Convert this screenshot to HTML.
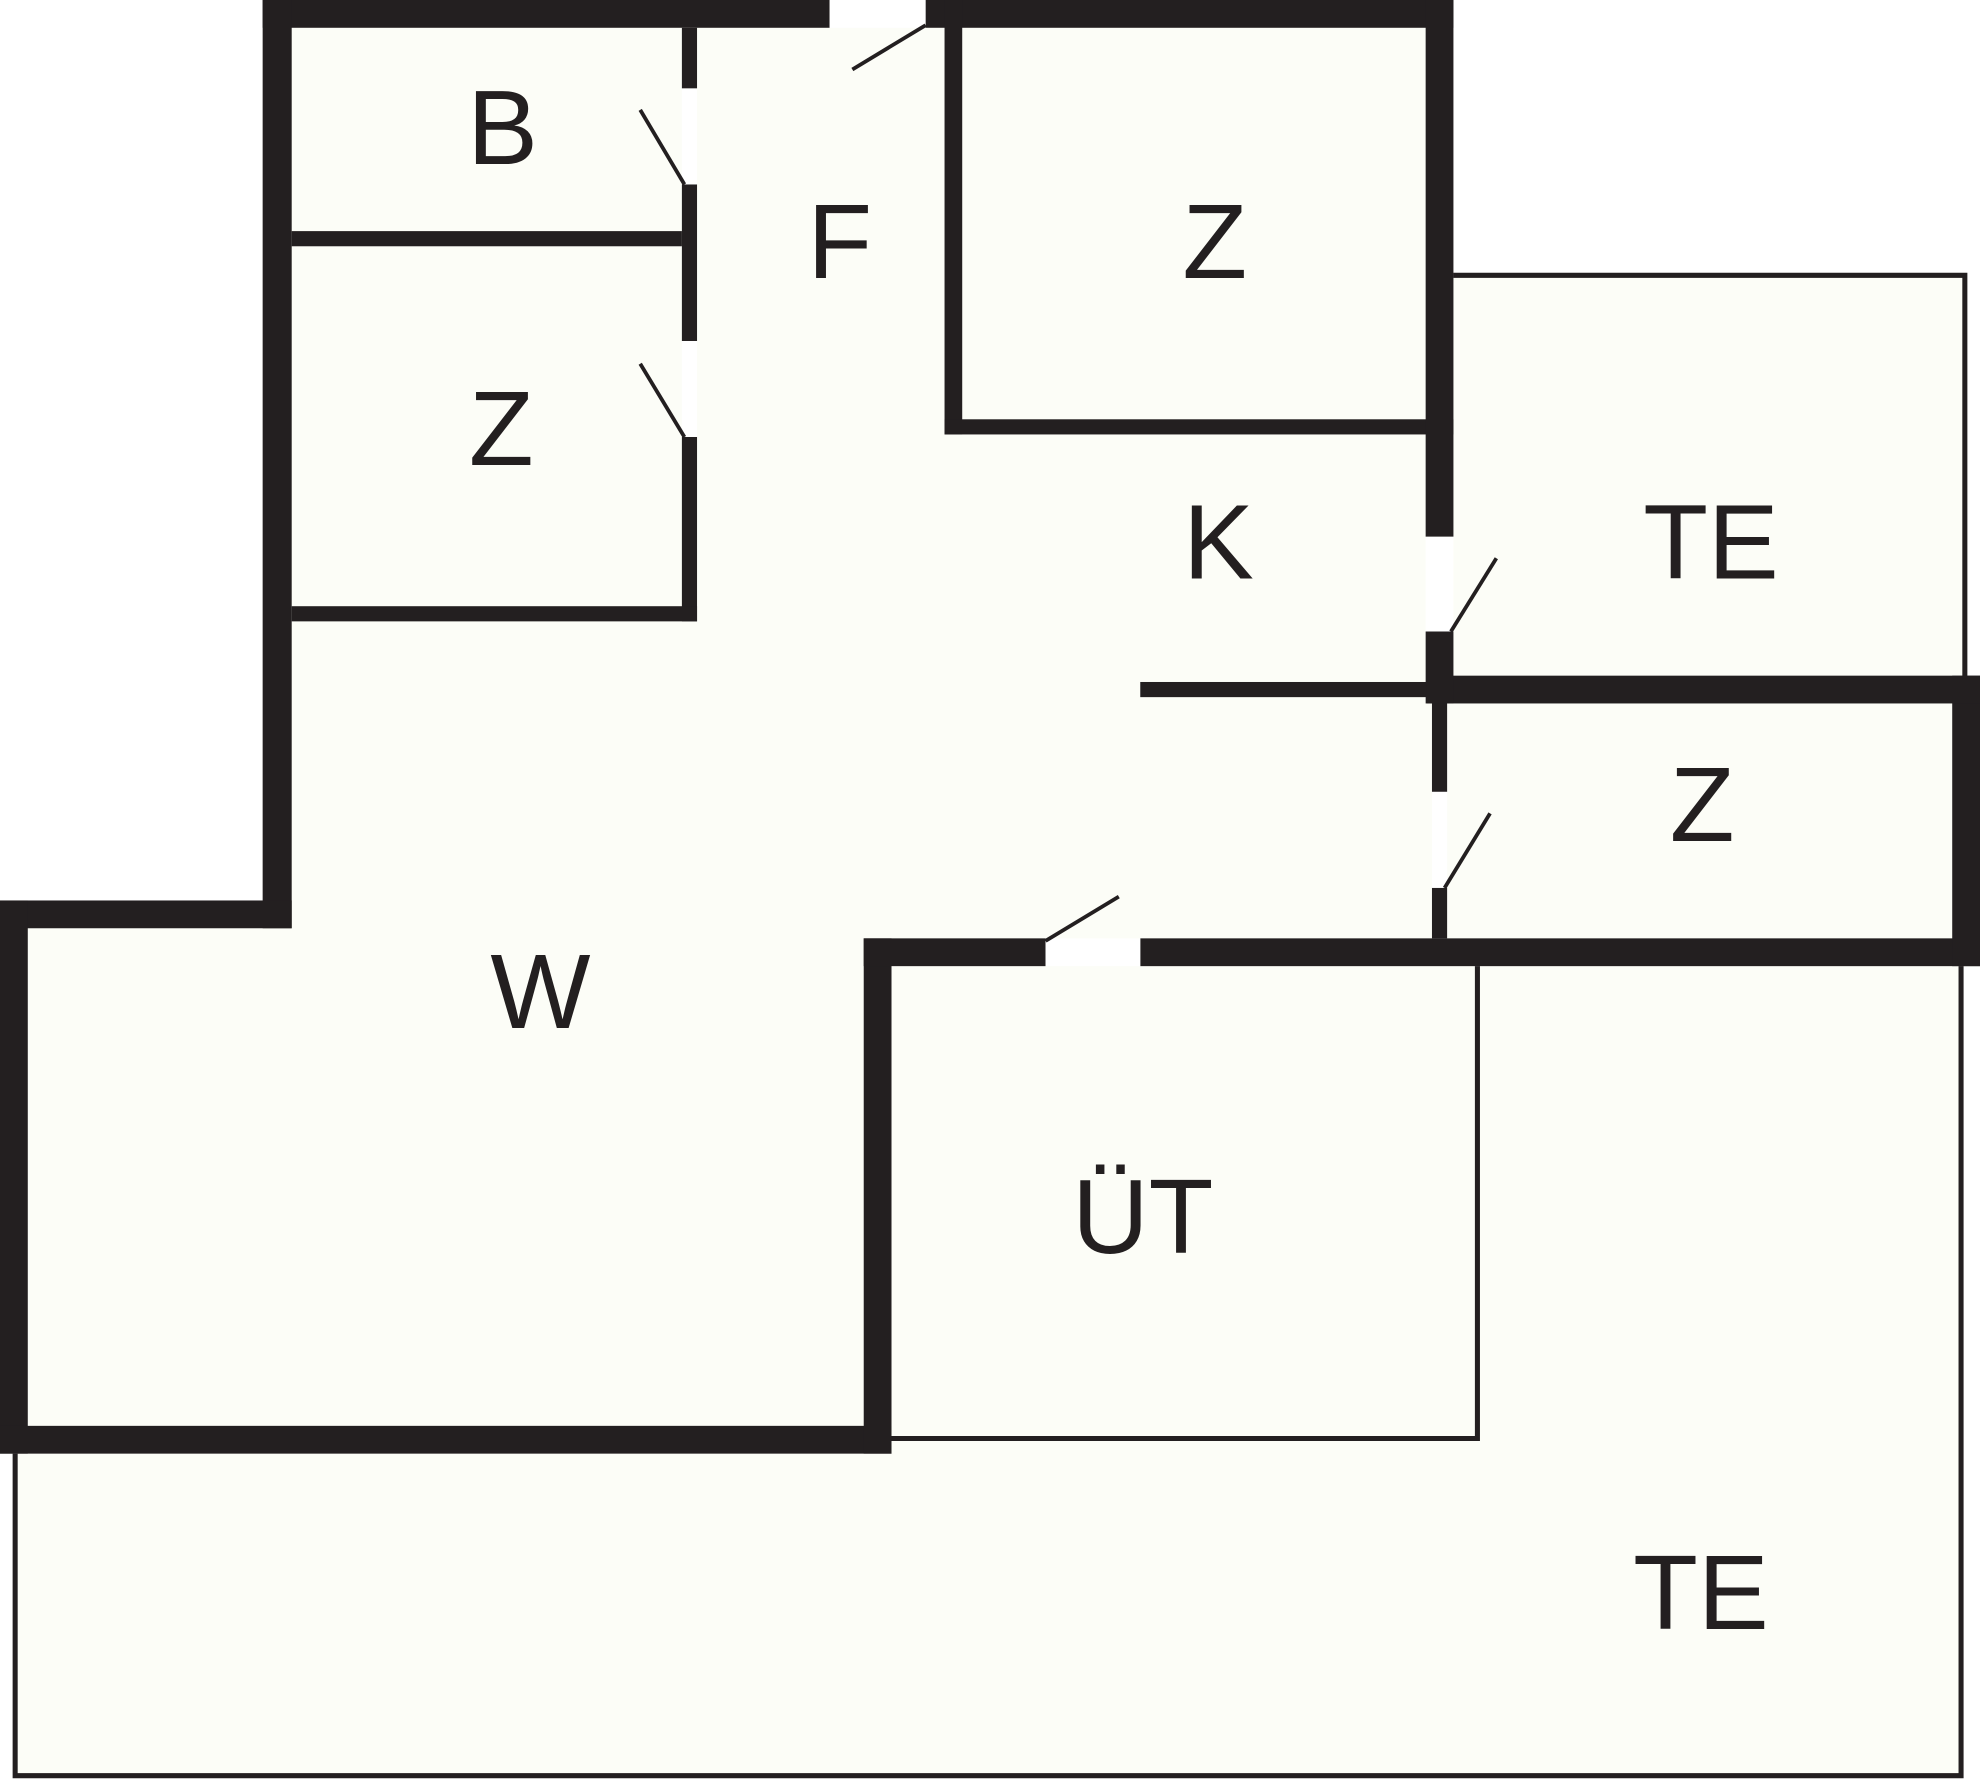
<!DOCTYPE html>
<html><head><meta charset="utf-8"><style>
html,body{margin:0;padding:0;background:#fff;}
svg{display:block;}
text{font-family:"Liberation Sans",sans-serif;fill:#231f20;font-size:84px;}
</style></head><body>
<svg width="1980" height="1782" viewBox="0 0 1568 1411" preserveAspectRatio="none" xmlns="http://www.w3.org/2000/svg">
<rect x="0" y="0" width="1568" height="1411" fill="#fff"/>
<polygon points="208,0 1151,0 1151,216 1558,216 1558,535 1568,535 1568,765 1555,765 1555,1408 10,1408 10,1151 0,1151 0,713 208,713" fill="#fcfdf7"/>
<g fill="#231f20">
<!-- top walls -->
<rect x="208" y="0" width="449" height="22"/>
<rect x="733" y="0" width="418" height="22"/>
<!-- left upper wall -->
<rect x="208" y="0" width="23" height="735"/>
<rect x="0" y="713" width="231" height="22"/>
<rect x="0" y="713" width="22" height="438"/>
<rect x="0" y="1129" width="706" height="22"/>
<!-- UT walls -->
<rect x="684" y="743" width="22" height="408"/>
<rect x="684" y="743" width="144" height="22"/>
<rect x="903" y="743" width="665" height="22"/>
<!-- right Z -->
<rect x="1546" y="535" width="22" height="230"/>
<rect x="1130" y="535" width="438" height="22"/>
<!-- upper right Z room -->
<rect x="748" y="0" width="14" height="344"/>
<rect x="748" y="332" width="403" height="12"/>
<rect x="1129" y="0" width="22" height="425"/>
<rect x="1129" y="500" width="22" height="57"/>
<!-- K partial -->
<rect x="903" y="540" width="227" height="12"/>
<!-- lower vertical -->
<rect x="1134" y="557" width="12" height="70"/>
<rect x="1134" y="703" width="12" height="40"/>
<!-- left column -->
<rect x="540" y="22" width="12" height="48"/>
<rect x="540" y="146" width="12" height="124"/>
<rect x="540" y="346" width="12" height="146"/>
<rect x="231" y="480" width="321" height="12"/>
<rect x="231" y="183" width="309" height="12"/>
</g>
<!-- door gaps white -->
<g fill="#fff">
<rect x="657" y="0" width="76" height="22"/>
<rect x="540" y="70" width="12" height="76"/>
<rect x="540" y="270" width="12" height="76"/>
<rect x="1129" y="425" width="22" height="75"/>
<rect x="1134" y="627" width="12" height="76"/>
<rect x="828" y="743" width="75" height="22"/>
</g>
<!-- thin outlines -->
<g fill="none" stroke="#231f20" stroke-width="4">
<polyline points="1151,218 1556,218 1556,537"/>
<polyline points="706,1139 1170,1139 1170,765"/>
<polyline points="12,1151 12,1406 1553,1406 1553,765"/>
</g>
<!-- door swings -->
<g stroke="#231f20" stroke-width="3">
<line x1="507" y1="87" x2="542" y2="146"/>
<line x1="507" y1="288" x2="542" y2="346"/>
<line x1="675" y1="55" x2="733" y2="20"/>
<line x1="1149" y1="500" x2="1185" y2="442"/>
<line x1="1144" y1="703" x2="1180" y2="644"/>
<line x1="828" y1="745" x2="886" y2="710"/>
</g>
<g text-anchor="middle">
<text x="398" y="130">B</text>
<text x="665" y="220">F</text>
<text x="962" y="220">Z</text>
<text x="397" y="368">Z</text>
<text x="965" y="458">K</text>
<text x="1355" y="458">TE</text>
<text x="1348" y="666">Z</text>
<text x="428" y="814">W</text>
<text x="905" y="992">ÜT</text>
<text x="1347" y="1290">TE</text>
</g>
</svg>
</body></html>
